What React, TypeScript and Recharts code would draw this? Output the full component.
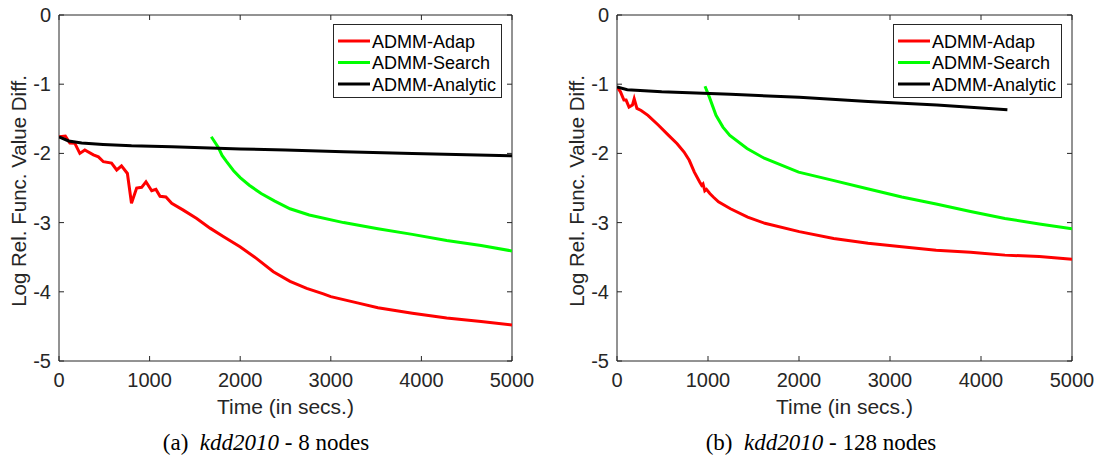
import { LineChart, Line, XAxis, YAxis, ReferenceArea, Legend } from "recharts"

const AXIS = "#262626"
const SANS = '"Liberation Sans", Arial, Helvetica, sans-serif'
const SERIF = '"Liberation Serif", "Times New Roman", serif'

const xTicks = [0, 1000, 2000, 3000, 4000, 5000]
const yTicks = [-5, -4, -3, -2, -1, 0]
const seriesNames = ["ADMM-Adap", "ADMM-Search", "ADMM-Analytic"]
const seriesColors = ["#ff0000", "#00ff00", "#000000"]

// (a) kdd2010 - 8 nodes
const adap8T = [0, 70, 120, 175, 230, 285, 380, 435, 490, 580, 637, 690, 755, 800, 857, 912, 960, 1023, 1070, 1115, 1180, 1244, 1372, 1520, 1667, 1813, 1998, 2182, 2366, 2550, 2734, 2918, 3000, 3293, 3520, 3900, 4279, 4659, 5000]
const adap8V = [-1.76, -1.75, -1.85, -1.855, -2.0, -1.95, -2.02, -2.05, -2.12, -2.14, -2.24, -2.18, -2.29, -2.72, -2.5, -2.49, -2.41, -2.54, -2.52, -2.62, -2.63, -2.72, -2.82, -2.94, -3.08, -3.2, -3.35, -3.52, -3.71, -3.85, -3.95, -4.03, -4.07, -4.16, -4.23, -4.31, -4.38, -4.43, -4.48]
const search8T = [1681, 1757, 1800, 1850, 1927, 2000, 2100, 2231, 2382, 2550, 2762, 3141, 3520, 3900, 4279, 4659, 5000]
const search8V = [-1.76, -1.91, -2.03, -2.12, -2.25, -2.35, -2.46, -2.58, -2.69, -2.8, -2.89, -3.0, -3.09, -3.17, -3.26, -3.33, -3.41]
const analytic8T = [0, 106, 250, 486, 800, 1244, 2003, 2500, 3141, 3900, 4500, 5000]
const analytic8V = [-1.76, -1.82, -1.85, -1.87, -1.89, -1.905, -1.935, -1.95, -1.975, -2.0, -2.02, -2.035]

// (b) kdd2010 - 128 nodes
const adap128T = [0, 38, 76, 100, 132, 170, 189, 219, 265, 340, 453, 567, 661, 737, 794, 850, 907, 930, 945, 965, 983, 1020, 1058, 1115, 1247, 1436, 1625, 2003, 2381, 2759, 3129, 3507, 3885, 4263, 4641, 5000]
const adap128V = [-1.04, -1.11, -1.23, -1.23, -1.33, -1.3, -1.21, -1.35, -1.38, -1.45, -1.59, -1.74, -1.86, -1.98, -2.1, -2.27, -2.41, -2.46, -2.44, -2.54, -2.52, -2.58, -2.63, -2.7, -2.8, -2.92, -3.01, -3.13, -3.23, -3.3, -3.35, -3.4, -3.43, -3.47, -3.49, -3.53]
const search128T = [967, 1013, 1088, 1164, 1240, 1429, 1618, 1996, 2374, 2752, 3130, 3507, 3885, 4263, 4641, 5000]
const search128V = [-1.03, -1.18, -1.45, -1.62, -1.74, -1.93, -2.07, -2.27, -2.39, -2.51, -2.63, -2.73, -2.84, -2.94, -3.02, -3.09]
const analytic128T = [0, 113, 491, 1247, 2003, 2759, 3515, 4290]
const analytic128V = [-1.04, -1.08, -1.11, -1.145, -1.19, -1.25, -1.3, -1.37]

type Pt = { t: number; v: number }
const zip = (ts: number[], vs: number[]): Pt[] => ts.map((t, i) => ({ t, v: vs[i] }))

const PLOT_TOP = 15
const PLOT_LEFT = 59
const TICK_LEN = 5

const makeYTick = (plotRight: number) => (props: any) => {
  const { x, y, payload } = props
  return (
    <g>
      <line x1={PLOT_LEFT} x2={PLOT_LEFT + TICK_LEN} y1={y} y2={y} stroke={AXIS} />
      <line x1={plotRight - TICK_LEN} x2={plotRight} y1={y} y2={y} stroke={AXIS} />
      <text x={x - 8} y={y} dy={7} textAnchor="end" fill={AXIS} fontFamily={SANS} fontSize={20}>
        {payload.value}
      </text>
    </g>
  )
}

const XTick = (props: any) => {
  const { x, y, payload } = props
  return (
    <g>
      <line x1={x} x2={x} y1={y} y2={y - TICK_LEN} stroke={AXIS} />
      <line x1={x} x2={x} y1={PLOT_TOP} y2={PLOT_TOP + TICK_LEN} stroke={AXIS} />
      <text x={x} y={y + 26} textAnchor="middle" fill={AXIS} fontFamily={SANS} fontSize={20}>
        {payload.value}
      </text>
    </g>
  )
}

// legend drawn in plot order, not the sorted payload order
const LegendBox = () => (
  <svg width={169} height={74} style={{ display: "block" }}>
    <rect x={0.5} y={0.5} width={168} height={73} fill="#fff" stroke={AXIS} />
    {seriesNames.map((name, i) => {
      const cy = 17 + i * 21.5
      return (
        <g key={name}>
          <line x1={5} x2={37} y1={cy} y2={cy} stroke={seriesColors[i]} strokeWidth={3} />
          <text x={39} y={cy + 6.5} fill="#000" fontFamily={SANS} fontSize={18}>
            {name}
          </text>
        </g>
      )
    })}
  </svg>
)

interface PanelProps {
  left: number
  width: number
  marginRight: number
  series: Pt[][]
}

function Panel({ left, width, marginRight, series }: PanelProps) {
  const plotRight = width - marginRight
  const YTick = makeYTick(plotRight)
  return (
    <div style={{ position: "absolute", left, top: 0 }}>
      <LineChart width={width} height={461} margin={{ top: PLOT_TOP, right: marginRight, bottom: 70, left: 9 }}>
        <XAxis
          dataKey="t"
          type="number"
          domain={[0, 5000]}
          ticks={xTicks}
          allowDataOverflow
          axisLine={false}
          tickLine={false}
          tickSize={0}
          tickMargin={0}
          height={30}
          tick={<XTick />}
          interval={0}
          label={{
            content: (p: any) => {
              const vb = p.viewBox
              return (
                <text x={vb.x + vb.width / 2} y={vb.y + 53} textAnchor="middle" fill={AXIS} fontFamily={SANS} fontSize={21}>
                  Time (in secs.)
                </text>
              )
            },
          }}
        />
        <YAxis
          type="number"
          domain={[-5, 0]}
          ticks={yTicks}
          allowDataOverflow
          axisLine={false}
          tickLine={false}
          tickSize={0}
          tickMargin={0}
          width={50}
          tick={<YTick />}
          interval={0}
          label={{
            content: (p: any) => {
              const vb = p.viewBox
              const cy = vb.y + vb.height / 2 + 3
              return (
                <text x={26} y={cy} transform={`rotate(-90, 26, ${cy})`} textAnchor="middle" fill={AXIS} fontFamily={SANS} fontSize={20.5}>
                  Log Rel. Func. Value Diff.
                </text>
              )
            },
          }}
        />
        {series.map((d, i) => (
          <Line
            key={seriesNames[i]}
            data={d}
            dataKey="v"
            name={seriesNames[i]}
            type="linear"
            stroke={seriesColors[i]}
            strokeWidth={3}
            dot={false}
            activeDot={false}
            isAnimationActive={false}
          />
        ))}
        <ReferenceArea x1={0} x2={5000} y1={-5} y2={0} fill="none" stroke={AXIS} strokeWidth={1} ifOverflow="visible" />
        <Legend
          layout="horizontal"
          verticalAlign="middle"
          align="center"
          width={169}
          height={74}
          content={<LegendBox />}
          wrapperStyle={{ top: 24, left: plotRight - 179, width: 169, height: 74 }}
        />
      </LineChart>
    </div>
  )
}

const Caption = ({ center, label, nodes }: { center: number; label: string; nodes: string }) => (
  <div
    style={{
      position: "absolute",
      left: center - 200,
      width: 400,
      top: 430,
      textAlign: "center",
      fontFamily: SERIF,
      fontSize: 23,
      color: "#000",
      whiteSpace: "pre",
    }}
  >
    {label}{"  "}<i>kdd2010</i>{" - "}{nodes}
  </div>
)

export default function App() {
  return (
    <div style={{ position: "absolute", left: 0, top: 0, width: 1097, height: 461, background: "#fff", overflow: "hidden" }}>
      <Panel
        left={0}
        width={550}
        marginRight={38}
        series={[zip(adap8T, adap8V), zip(search8T, search8V), zip(analytic8T, analytic8V)]}
      />
      <Panel
        left={558}
        width={539}
        marginRight={25}
        series={[zip(adap128T, adap128V), zip(search128T, search128V), zip(analytic128T, analytic128V)]}
      />
      <Caption center={266} label="(a)" nodes="8 nodes" />
      <Caption center={821} label="(b)" nodes="128 nodes" />
    </div>
  )
}
